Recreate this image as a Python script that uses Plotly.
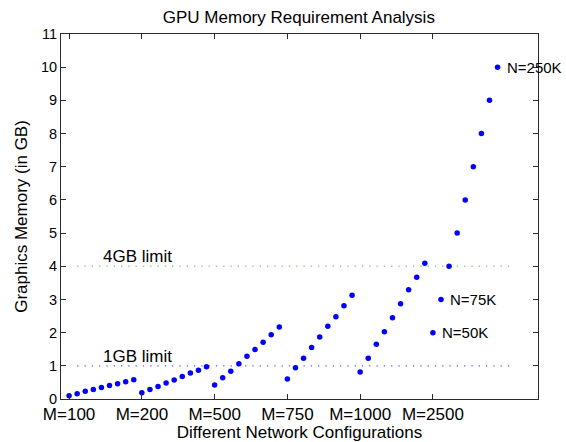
import plotly.graph_objects as go

config_labels = ["M=100", "M=200", "M=500", "M=750", "M=1000", "M=2500"]
mem_m100 = [0.10, 0.16, 0.23, 0.29, 0.35, 0.41, 0.46, 0.52, 0.58]
mem_m200 = [0.19, 0.29, 0.38, 0.48, 0.57, 0.68, 0.78, 0.87, 0.97]
mem_m500 = [0.42, 0.64, 0.84, 1.06, 1.29, 1.49, 1.71, 1.94, 2.17]
mem_m750 = [0.60, 0.94, 1.23, 1.55, 1.87, 2.19, 2.48, 2.81, 3.13]
mem_m1000 = [0.81, 1.23, 1.65, 2.03, 2.45, 2.87, 3.29, 3.67, 4.09]
mem_m2500 = [2, 3, 4, 5, 6, 7, 8, 9, 10]
limits = [1, 4]
limit_labels = ["1GB limit", "4GB limit"]
point_labels = {"N=50K": (46, 2), "N=75K": (47, 3), "N=250K": (54, 10)}

groups = [mem_m100, mem_m200, mem_m500, mem_m750, mem_m1000, mem_m2500]
xs, ys = [], []
for g, vals in enumerate(groups):
    for i, v in enumerate(vals):
        xs.append(1 + g * 9 + i)
        ys.append(v)
tickvals = [1 + g * 9 for g in range(len(groups))]

FONT = "Arial, Liberation Sans, sans-serif"
fig = go.Figure()
limit_colors = ["#5c5cff", "#8fcc8f"]
for lim, col in zip(limits, limit_colors):
    fig.add_trace(go.Scatter(x=[2, 56], y=[lim, lim], mode="lines",
                             line=dict(color=col, width=1.3, dash="1.3px,6px"),
                             hoverinfo="skip", showlegend=False))
fig.add_trace(go.Scatter(x=xs, y=ys, mode="markers",
                         marker=dict(color="#0000ff", size=5.5),
                         showlegend=False, cliponaxis=False))

for lim, txt in zip(limits, limit_labels):
    fig.add_annotation(x=5, y=lim + 0.28, text=txt, showarrow=False,
                       xanchor="left", yanchor="middle",
                       font=dict(family=FONT, size=17, color="black"))
for txt, (px, py) in point_labels.items():
    fig.add_annotation(x=px, y=py, text=txt, showarrow=False,
                       xanchor="left", yanchor="middle", xshift=7,
                       font=dict(family=FONT, size=15, color="black"))

axis_common = dict(showline=True, linecolor="#2b2b2b", linewidth=1, mirror="ticks",
                   ticks="inside", ticklen=5, tickcolor="#2b2b2b", showgrid=False,
                   zeroline=False)
fig.update_xaxes(range=[0, 59], tickvals=tickvals, ticktext=config_labels,
                 tickfont=dict(family=FONT, size=17, color="black"),
                 title=dict(text="Different Network Configurations", standoff=2,
                            font=dict(family=FONT, size=17, color="black")),
                 **axis_common)
fig.update_yaxes(range=[0, 11], dtick=1,
                 tickfont=dict(family=FONT, size=14.5, color="black"),
                 title=dict(text="Graphics Memory (in GB)", standoff=9,
                            font=dict(family=FONT, size=17, color="black")),
                 **axis_common)
fig.update_layout(
    width=566, height=442,
    margin=dict(l=61, r=28, t=34, b=43, autoexpand=False),
    paper_bgcolor="white", plot_bgcolor="white",
    title=dict(text="GPU Memory Requirement Analysis", x=0.528, xanchor="center",
               y=0.962, yanchor="middle",
               font=dict(family=FONT, size=17, color="black")),
)
fig.write_html("out.html", config={"displayModeBar": False},
               post_script="document.body.style.margin='0';document.body.style.overflow='hidden';")
